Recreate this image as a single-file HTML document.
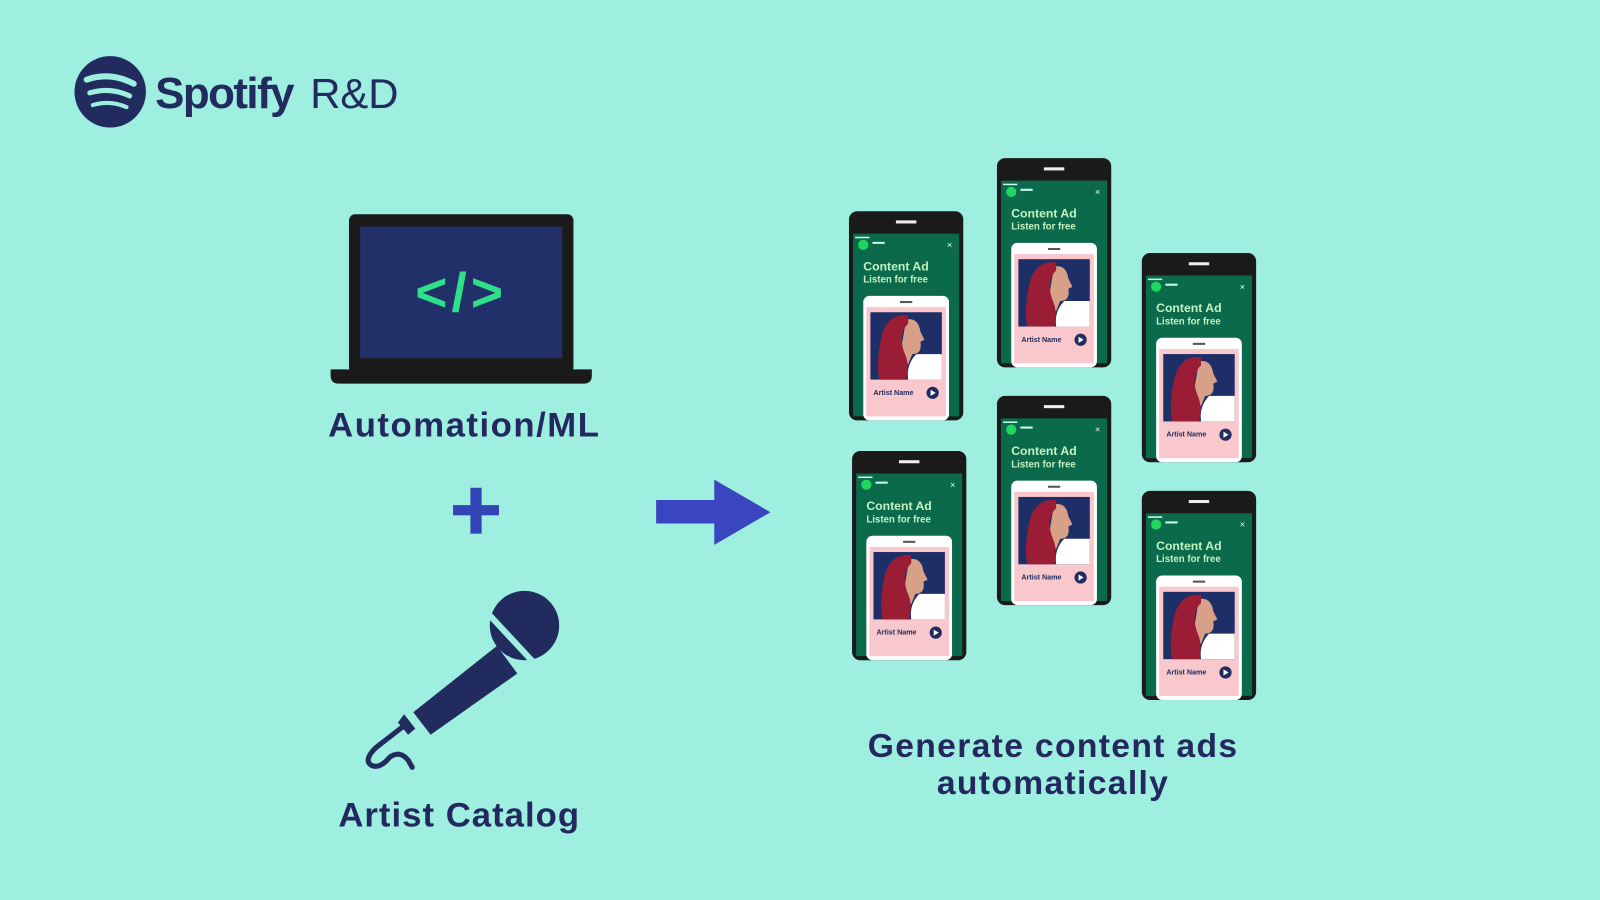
<!DOCTYPE html>
<html><head><meta charset="utf-8"><style>
html,body{margin:0;padding:0;background:#9eefe0;}
svg{display:block;}
text{font-family:"Liberation Sans","DejaVu Sans",sans-serif;}
</style></head><body>
<svg width="1600" height="900" viewBox="0 0 1568 882" preserveAspectRatio="none" xmlns="http://www.w3.org/2000/svg">
<rect width="1568" height="882" fill="#9eefe0"/>
<!-- logo -->
<circle cx="108" cy="90" r="35" fill="#212b5e"/>
<path d="M85 78 Q108 70 131 82" stroke="#9eefe0" stroke-width="6" fill="none" stroke-linecap="round"/>
<path d="M88 91 Q108 85 127 94" stroke="#9eefe0" stroke-width="5" fill="none" stroke-linecap="round"/>
<path d="M91 103 Q108 98 124 105" stroke="#9eefe0" stroke-width="4" fill="none" stroke-linecap="round"/>
<text x="152" y="106" font-size="43" font-weight="bold" fill="#212b5e" letter-spacing="-1.5">Spotify</text>
<text x="304" y="106" font-size="41" fill="#212b5e">R&amp;D</text>
<!-- laptop -->
<rect x="342" y="210" width="220" height="156" rx="6" fill="#1a1a1a"/>
<rect x="353" y="222" width="198" height="129" fill="#22306a"/>
<path d="M324 362 H580 V368 Q580 376 572 376 H332 Q324 376 324 368 Z" fill="#1a1a1a"/>
<text x="452" y="305" font-size="54" font-weight="bold" fill="#2fe08a" text-anchor="middle" letter-spacing="4">&lt;/&gt;</text>
<text x="455" y="428" font-size="34" font-weight="bold" fill="#23285e" text-anchor="middle" letter-spacing="1.5">Automation/ML</text>
<!-- plus -->
<rect x="444" y="495" width="45" height="10" fill="#3344b5"/>
<rect x="461" y="478" width="11" height="45" fill="#3344b5"/>
<!-- arrow -->
<rect x="643" y="490" width="62" height="23" fill="#3a45c0"/>
<polygon points="700,470 755,502 700,534" fill="#3a45c0"/>
<!-- mic -->
<circle cx="514" cy="613" r="34" fill="#212b5e"/>
<line x1="478" y1="601" x2="532" y2="659" stroke="#9eefe0" stroke-width="6"/>
<polygon points="487,633 507,660 422,720 405,698" fill="#212b5e"/>
<polygon points="396,700 407,714 400,720 390,708" fill="#212b5e"/>
<path d="M395 712 L368 733 Q356 745 364 750 Q372 754 382 742 Q392 735 400 745 L404 752" stroke="#212b5e" stroke-width="5" fill="none" stroke-linecap="round"/>
<text x="450" y="810" font-size="34" font-weight="bold" fill="#23285e" text-anchor="middle" letter-spacing="1">Artist Catalog</text>
<text x="1032" y="742" font-size="33" font-weight="bold" fill="#23285e" text-anchor="middle" letter-spacing="1.3">Generate content ads</text>
<text x="1032" y="778" font-size="33" font-weight="bold" fill="#23285e" text-anchor="middle" letter-spacing="1.3">automatically</text>

<!-- phones -->
<g id="p1" transform="translate(832,207)">
<rect width="112" height="205" rx="8" fill="#1a1a1a"/>
<rect x="46" y="9" width="20" height="3" fill="#eee"/>
<rect x="4" y="22" width="104" height="179" fill="#0b6a4c"/>
<rect x="6" y="25" width="14" height="1.5" fill="#cfe"/>
<circle cx="14" cy="33" r="5" fill="#1ed760"/>
<rect x="23" y="30" width="12" height="2" fill="#cfe"/>
<text x="96" y="36" font-size="9" fill="#dfe">×</text>
<text x="14" y="58" font-size="12" font-weight="bold" fill="#c4f2c0">Content Ad</text>
<text x="14" y="70" font-size="9.5" font-weight="bold" fill="#c4f2c0">Listen for free</text>
<rect x="14" y="83" width="84" height="122" rx="6" fill="#fff"/>
<rect x="50" y="88" width="12" height="2" fill="#555"/>
<rect x="17" y="94" width="78" height="107" fill="#f8c8cc"/>
<rect x="21" y="99" width="70" height="66" fill="#1e2e66"/>
<path d="M58 165 Q56 150 66 140 L91 140 L91 165Z" fill="#fff"/>
<path d="M56 106 Q68 104 70 118 L74 126 L70 128 Q72 140 62 140 L58 150 Q50 148 52 130Z" fill="#d9a088"/>
<path d="M58 102 Q38 100 32 122 Q26 150 30 165 L56 165 Q60 150 54 138 Q48 120 58 110Z" fill="#9a1c35"/>
<text x="24" y="180" font-size="7" font-weight="bold" fill="#212b5e">Artist Name</text>
<circle cx="82" cy="178" r="6" fill="#212b5e"/>
<polygon points="80,175 80,181 85,178" fill="#fff"/>
</g>
<use href="#p1" transform="translate(145,-52)"/>
<use href="#p1" transform="translate(287,41)"/>
<use href="#p1" transform="translate(3,235)"/>
<use href="#p1" transform="translate(145,181)"/>
<use href="#p1" transform="translate(287,274)"/>
</svg>
</body></html>
